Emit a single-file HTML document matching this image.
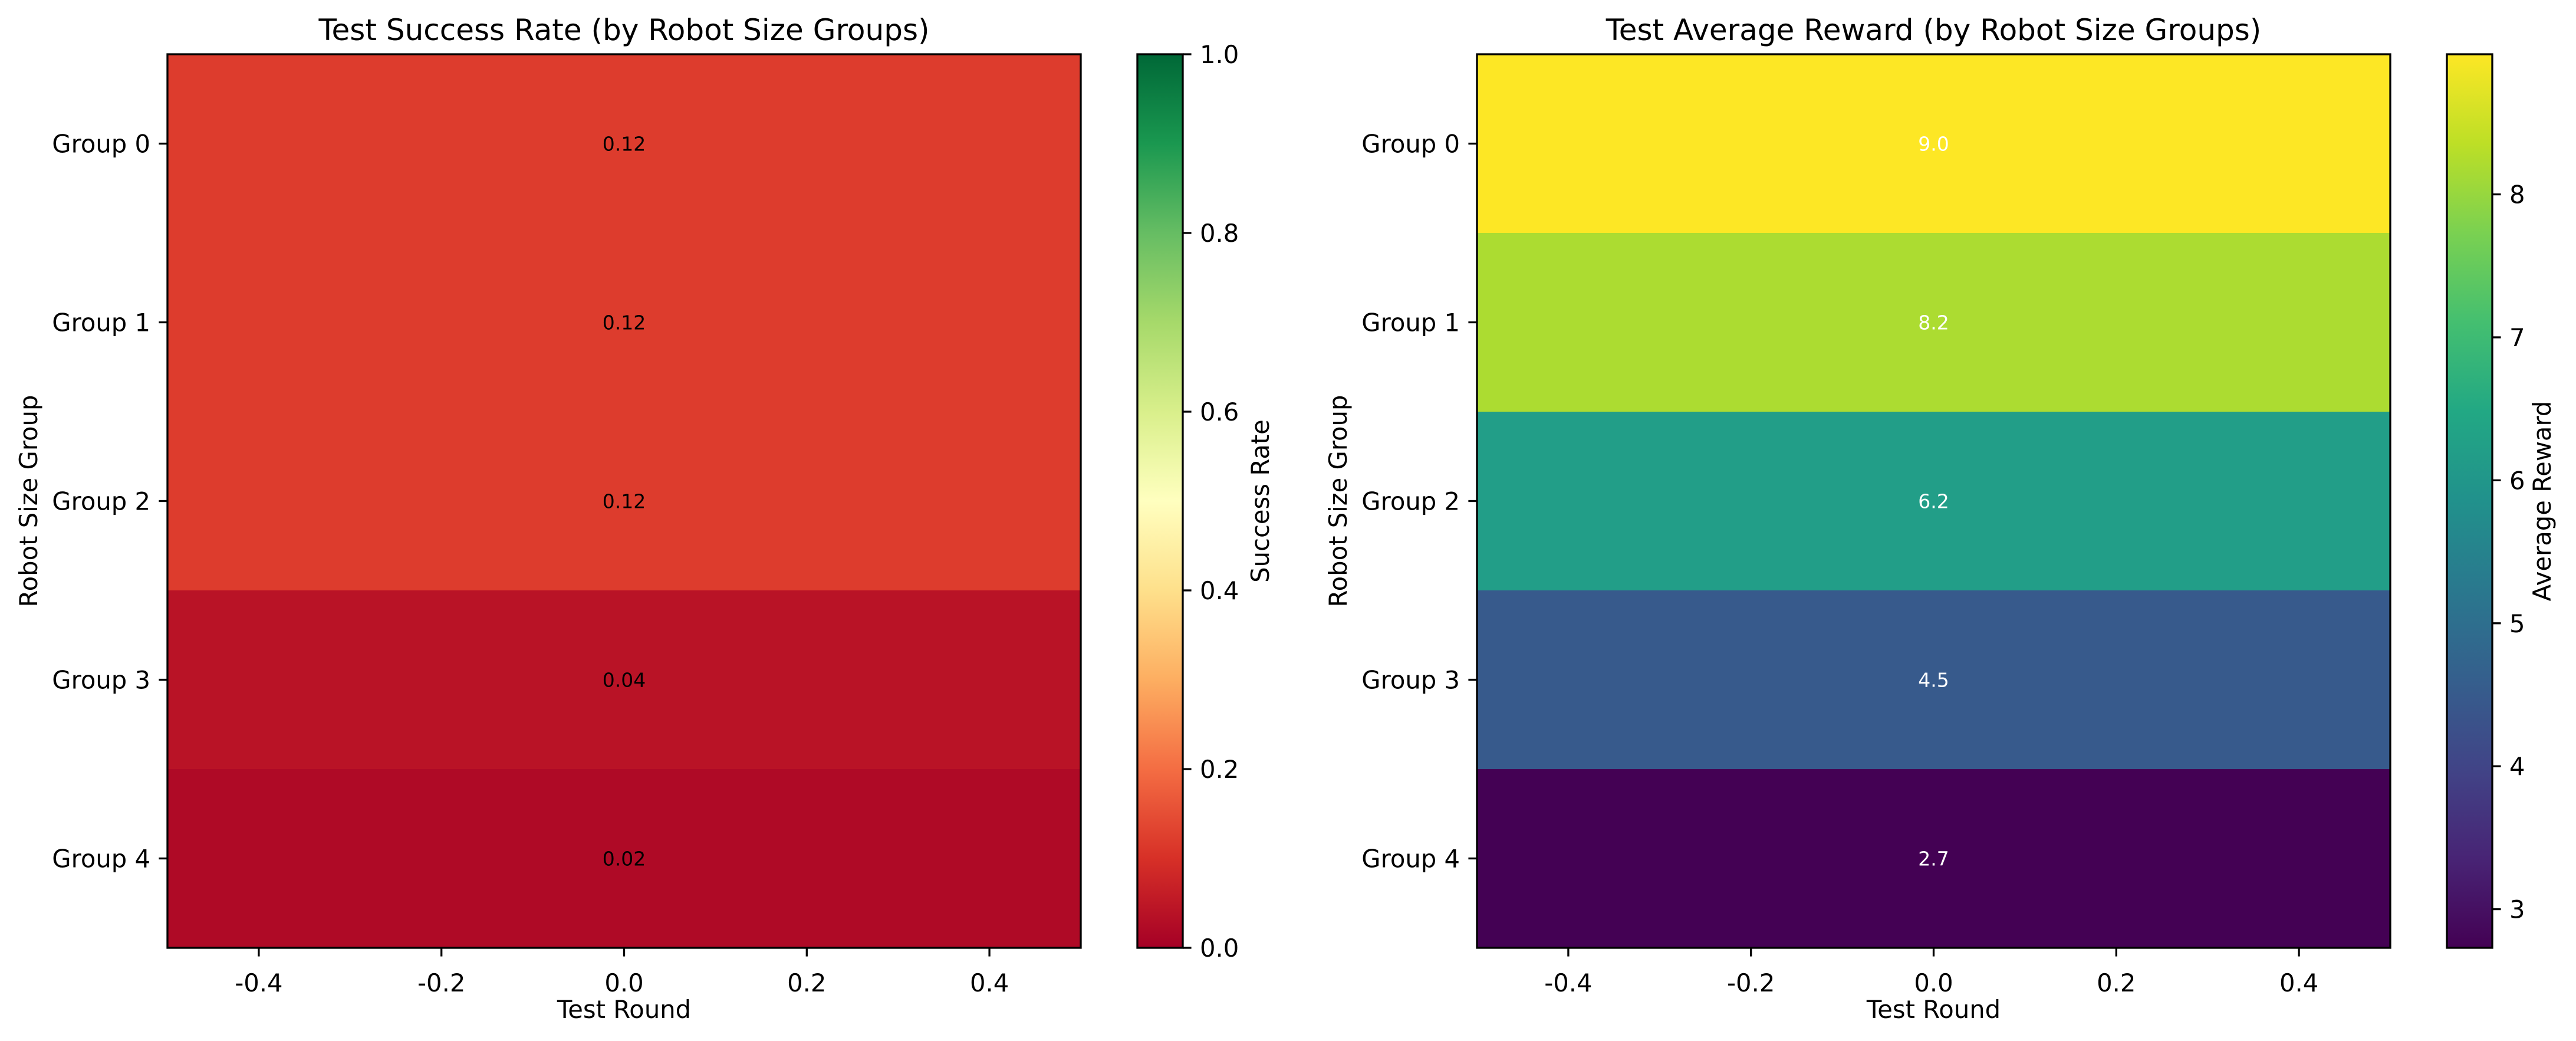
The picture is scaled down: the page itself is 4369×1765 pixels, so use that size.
<!DOCTYPE html>
<html><head><meta charset="utf-8">
<style>
html,body{margin:0;padding:0;background:#fff;}
svg{display:block;font-family:"DejaVu Sans","Liberation Sans",sans-serif;}
</style></head>
<body>
<svg id="fig" xmlns="http://www.w3.org/2000/svg" width="4369" height="1765" viewBox="0 0 4369 1765">
<defs>
<linearGradient id="gRdYlGn" x1="0" y1="1" x2="0" y2="0"></linearGradient>
<linearGradient id="gViridis" x1="0" y1="1" x2="0" y2="0"></linearGradient>
</defs>
<g id="root"></g>
</svg>
<script>
const groups = ["Group 0","Group 1","Group 2","Group 3","Group 4"];
const successRates = [0.12, 0.12, 0.12, 0.04, 0.02];
const avgRewards = [8.98, 8.2, 6.2, 4.5, 2.73];
const rewardLabels = ["9.0","8.2","6.2","4.5","2.7"];
const xTicks = [-0.4, -0.2, 0.0, 0.2, 0.4];
const successTicks = [0, 0.2, 0.4, 0.6, 0.8, 1.0];
const rewardTicks = [3, 4, 5, 6, 7, 8];

const RdYlGn = ["#a50026","#d73027","#f46d43","#fdae61","#fee08b","#ffffbf","#d9ef8b","#a6d96a","#66bd63","#1a9850","#006837"];
const viridis = ["#440154","#482475","#414487","#355f8d","#2a788e","#21918c","#22a884","#44bf70","#7ad151","#bddf26","#fde725"];

function hex2rgb(h){return [parseInt(h.slice(1,3),16),parseInt(h.slice(3,5),16),parseInt(h.slice(5,7),16)];}
function cmap(stops,t){
  t=Math.max(0,Math.min(1,t));
  const p=t*(stops.length-1), i=Math.min(stops.length-2,Math.floor(p)), f=p-i;
  const a=hex2rgb(stops[i]), b=hex2rgb(stops[i+1]);
  return "rgb("+a.map((v,k)=>Math.round(v+(b[k]-v)*f)).join(",")+")";
}
const NS="http://www.w3.org/2000/svg";
const root=document.getElementById('root');
function el(tag,attrs,parent,text){
  const e=document.createElementNS(NS,tag);
  for(const k in attrs) e.setAttribute(k,attrs[k]);
  if(text!==undefined) e.textContent=text;
  (parent||root).appendChild(e);
  return e;
}
function fillGrad(id,stops){
  const g=document.getElementById(id);
  stops.forEach((c,i)=>{el('stop',{offset:(i/(stops.length-1)),'stop-color':c},g);});
}
fillGrad('gRdYlGn',RdYlGn);
fillGrad('gViridis',viridis);

const TOP=92, BOT=1607, H=BOT-TOP;
function drawPanel(o){
  const L=o.left, R=o.left+1549, W=R-L;
  const g=el('g',{});
  
  
  const xs=v=>L+(v+0.5)*W;
  const ys=i=>TOP+i*H/groups.length;
  o.values.forEach((v,i)=>{
    const r=el('rect',{x:L,y:ys(i),width:W,height:H/groups.length+0.5,fill:cmap(o.stops,(v-o.vmin)/(o.vmax-o.vmin))},g);
    
    
    const t=el('text',{x:xs(0),y:ys(i)+H/groups.length/2+12,'font-size':33,'text-anchor':'middle',fill:o.textColor},g,o.labels[i]);
    
    
  });
  const frame=el('rect',{x:L,y:TOP,width:W,height:H,fill:'none',stroke:'#000','stroke-width':3.3},g);
  
  
  groups.forEach((name,i)=>{
    const y=ys(i)+H/groups.length/2;
    el('line',{x1:L-14.6,x2:L,y1:y,y2:y,stroke:'#000','stroke-width':3.3},g);
    const t=el('text',{x:L-29,y:y+15,'font-size':41.7,'text-anchor':'end'},g,name);
    
    
  });
  xTicks.forEach(v=>{
    const x=xs(v);
    el('line',{x1:x,x2:x,y1:BOT,y2:BOT+14.6,stroke:'#000','stroke-width':3.3},g);
    const t=el('text',{x:x,y:1681,'font-size':41.7,'text-anchor':'middle'},g,v.toFixed(1));
    
    
  });
  const xt=el('text',{x:L+W/2,y:1726,'font-size':41.7,'text-anchor':'middle'},g,'Test Round');
  
  
  const yt=el('text',{x:0,y:0,'font-size':41.7,'text-anchor':'middle',transform:'translate('+(L-221)+','+(TOP+H/2)+') rotate(-90)'},g,'Robot Size Group');
  
  
  const tt=el('text',{x:L+W/2,y:68,'font-size':50,'text-anchor':'middle'},g,o.title);
  
  
  const CL=R+96, CW=77;
  const cb=el('rect',{x:CL,y:TOP,width:CW,height:H,fill:'url(#'+o.grad+')',stroke:'#000','stroke-width':3.3},g);
  
  
  const cy=v=>BOT-(v-o.vmin)/(o.vmax-o.vmin)*H;
  o.cticks.forEach(v=>{
    const y=cy(v);
    el('line',{x1:CL+CW,x2:CL+CW+14.6,y1:y,y2:y,stroke:'#000','stroke-width':3.3},g);
    const t=el('text',{x:CL+CW+29,y:y+15,'font-size':41.7},g,o.cfmt(v));
    
    
  });
  const ct=el('text',{x:0,y:0,'font-size':41.7,'text-anchor':'middle',transform:'translate('+o.clabelX+','+(TOP+H/2)+') rotate(-90)'},g,o.clabel);
  
  
}
drawPanel({name:'success-rate-panel',left:284,values:successRates,labels:successRates.map(v=>v.toFixed(2)),
  stops:RdYlGn,grad:'gRdYlGn',vmin:0,vmax:1,textColor:'#000',title:'Test Success Rate (by Robot Size Groups)',
  cticks:successTicks,cfmt:v=>v.toFixed(1),clabel:'Success Rate',clabelX:2152});
drawPanel({name:'average-reward-panel',left:2505,values:avgRewards,labels:rewardLabels,
  stops:viridis,grad:'gViridis',vmin:2.73,vmax:8.98,textColor:'#fff',title:'Test Average Reward (by Robot Size Groups)',
  cticks:rewardTicks,cfmt:v=>String(v),clabel:'Average Reward',clabelX:4326});
</script>
</body></html>
